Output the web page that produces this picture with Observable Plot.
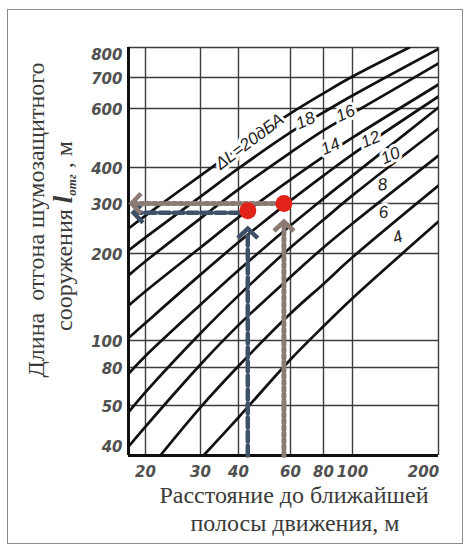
<!DOCTYPE html>
<html>
<head>
<meta charset="utf-8">
<script src="https://cdn.jsdelivr.net/npm/d3@7"></script>
<script src="https://cdn.jsdelivr.net/npm/@observablehq/plot@0.6"></script>
<style>
  html, body { margin: 0; padding: 0; background: #fff; }
  #chart { position: relative; width: 469px; height: 550px; }
  #chart svg { display: block; }
  #border { position: absolute; left: 7px; top: 9px; width: 456px; height: 535px;
            border: 1.5px solid #8a8a8a; box-sizing: border-box; pointer-events: none; }
</style>
</head>
<body>
<div id="chart"><div id="border"></div></div>
<script>
// ---------------- data ----------------
// grid values printed on the nomogram
const xGridTicks = [20, 30, 40, 60, 80, 100, 200];
const yGridTicks = [50, 80, 100, 200, 300, 400, 600, 700, 800];
const xTickLabels = [20, 30, 40, 60, 80, 100, 200];
const yTickLabels = [40, 50, 80, 100, 200, 300, 400, 600, 700, 800];
const xMin = 17.6, yMin = 40;

// curves ΔL (distance to nearest lane, m  ->  length of barrier extension, m)
const dist20 = [17.6, 20, 30, 40, 60, 80, 100, 158];
const len20  = [245, 272, 375, 456, 580, 647, 703, 800];
const dist18 = [17.6, 20, 30, 40, 60, 80, 100, 200];
const len18  = [205, 228, 317, 397, 509, 584, 640, 795];
const dist16 = [17.6, 20, 30, 40, 60, 80, 100, 200];
const len16  = [168, 188, 266, 336, 443, 516, 580, 745];
const dist14 = [17.6, 20, 30, 40, 60, 80, 100, 200];
const len14  = [132, 148, 210, 268, 363, 431, 491, 676];
const dist12 = [17.6, 20, 30, 40, 60, 80, 100, 200];
const len12  = [102, 115, 169, 219, 307, 375, 438, 637];
const dist10 = [17.6, 20, 30, 40, 60, 80, 100, 200];
const len10  = [74, 88, 133, 175, 251, 312, 375, 603];
const dist8  = [17.6, 20, 30, 40, 60, 80, 100, 200];
const len8   = [48.5, 59, 106, 143, 210, 263, 320, 523];
const dist6  = [17.6, 20, 30, 40, 60, 80, 100, 200];
const len6   = [41.6, 45.5, 82, 113, 166, 210, 255, 434];
const dist4  = [22.3, 30, 40, 60, 80, 100, 200];
const len4   = [40, 49.6, 81, 124, 157, 194, 346];
const distLow = [30.7, 40, 60, 80, 100, 200];   // lowest curve, unlabeled in the source
const lenLow  = [40, 47.4, 85.5, 112, 140, 259];

// curve labels
const labelTexts = ["ΔL=20дБА", "18", "16", "14", "12", "10", "8", "6", "4"];
const labelDist  = [43.6, 68.4, 94.7, 84.4, 115.6, 135.8, 127.4, 128.4, 143.7];
const labelLen   = [478, 552, 580, 462, 485, 434, 349, 279, 228];

// worked examples (red points)
const exampleDist = [43, 57];
const exampleLen  = [283, 300];

const yTitle1 = "Длина\u00a0 отгона шумозащитного";
const xTitle1 = "Расстояние до ближайшей";
const xTitle2 = "полосы движения, м";

// ---------------- build tables ----------------
const curves = [
  ["20", dist20, len20], ["18", dist18, len18], ["16", dist16, len16],
  ["14", dist14, len14], ["12", dist12, len12], ["10", dist10, len10],
  ["8", dist8, len8], ["6", dist6, len6], ["4", dist4, len4], ["low", distLow, lenLow]
];
const curveRows = curves.flatMap(([k, ds, ls]) => ds.map((d, i) => ({k, d, l: ls[i]})));
const labelRotate = [-37, -24, -24, -24, -24, -24, -8, -8, -20];
const labelRows = labelTexts.map((t, i) => ({t, d: labelDist[i], l: labelLen[i], r: labelRotate[i]}));
const pts = exampleDist.map((d, i) => ({d, l: exampleLen[i]}));

const blue = "#3f5169", brown = "#8b7b72";
const chevron = {
  draw(ctx, size) {
    const s = Math.sqrt(size / Math.PI);
    ctx.moveTo(-s, s * 0.95); ctx.lineTo(0, 0); ctx.lineTo(s, s * 0.95);
  }
};
const tickFont = {fontSize: 15, fontStyle: "italic", fontWeight: "bold", fill: "#505050",
  fontFamily: "'DejaVu Sans', 'Liberation Sans', sans-serif"};
const fmt = d => String(d);

const plot = Plot.plot({
  width: 469, height: 550,
  marginLeft: 128, marginRight: 31, marginTop: 47, marginBottom: 95,
  // the printed grid of the nomogram is not exactly logarithmic: calibrate the log scale piecewise
  x: {type: "log", domain: [xMin, 20, 30, 40, 60, 80, 100, 200],
      range: [128, 145, 200, 238, 290, 323, 352, 438], axis: null},
  y: {type: "log", domain: [yMin, 50, 80, 100, 200, 300, 400, 600, 700, 800],
      range: [455, 405, 367, 340, 253, 203, 167, 108, 77, 47], axis: null},
  style: {fontFamily: "'Liberation Sans', Arial, sans-serif", background: "transparent"},
  marks: [
    Plot.gridX(xGridTicks, {stroke: "#3c3c3c", strokeOpacity: 1, strokeWidth: 1.4}),
    Plot.gridY(yGridTicks, {stroke: "#3c3c3c", strokeOpacity: 1, strokeWidth: 1.4}),
    Plot.ruleX([xMin], {stroke: "#111", strokeWidth: 3}),
    Plot.ruleY([yMin], {stroke: "#111", strokeWidth: 3}),
    Plot.line(curveRows, {x: "d", y: "l", z: "k", stroke: "#111", strokeWidth: 2.7,
      curve: "catmull-rom", clip: true}),
    Plot.text(labelRows, {x: "d", y: "l", text: "t", rotate: "r", fontSize: 17, fontStyle: "italic",
      fill: "#222", stroke: "white", strokeWidth: 6, fontFamily: "'Liberation Sans', Arial, sans-serif"}),
    // tick labels
    Plot.text(xTickLabels.filter(v => v !== 200), {x: d => d, y: () => yMin, text: fmt, dy: 17, ...tickFont}),
    Plot.text([200], {x: d => d, y: () => yMin, text: fmt, dy: 17, dx: -15, ...tickFont}),
    Plot.text(yTickLabels.filter(v => v !== 800 && v !== 40), {x: () => xMin, y: d => d, text: fmt,
      textAnchor: "end", dx: -6, dy: 2, ...tickFont}),
    Plot.text([800], {x: () => xMin, y: d => d, text: fmt, textAnchor: "end", dx: -6, dy: 8, ...tickFont}),
    Plot.text([40], {x: () => xMin, y: d => d, text: fmt, textAnchor: "end", dx: -6, dy: -8, ...tickFont}),
    // worked example: blue (dashed)
    Plot.arrow([pts[0]], {x1: "d", y1: () => yMin, x2: "d", y2: "l", headLength: 0, insetEnd: 21,
      stroke: blue, strokeWidth: 4.5, strokeDasharray: "10,4"}),
    Plot.arrow([pts[0]], {x1: "d", y1: "l", x2: () => xMin, y2: "l", headLength: 0, insetStart: 8, insetEnd: 6,
      stroke: blue, strokeWidth: 4.5, strokeDasharray: "10,4", dy: 2}),
    Plot.dot([pts[0]], {x: "d", y: "l", symbol: chevron, r: 10, dy: 18, fill: "none", stroke: blue, strokeWidth: 4.5}),
    Plot.dot([pts[0]], {x: () => xMin, y: "l", symbol: chevron, r: 10, dx: 5, dy: 2, rotate: -90, fill: "none", stroke: blue, strokeWidth: 4.5}),
    // worked example: brown (dotted)
    Plot.arrow([pts[1]], {x1: "d", y1: () => yMin, x2: "d", y2: "l", headLength: 0, insetEnd: 21,
      stroke: brown, strokeWidth: 5, strokeDasharray: "3,3.5"}),
    Plot.arrow([pts[1]], {x1: "d", y1: "l", x2: () => xMin, y2: "l", headLength: 0, insetStart: 4, insetEnd: 5,
      stroke: brown, strokeWidth: 5, strokeDasharray: "3,3.5"}),
    Plot.dot([pts[1]], {x: "d", y: "l", symbol: chevron, r: 10, dy: 18, fill: "none", stroke: brown, strokeWidth: 4.5}),
    Plot.dot([pts[1]], {x: () => xMin, y: "l", symbol: chevron, r: 10, dx: 3, rotate: -90, fill: "none", stroke: brown, strokeWidth: 4.5}),
    Plot.dot(pts, {x: "d", y: "l", r: 8.5, fill: "#e2231a"})
  ]
});

const chart = document.getElementById("chart");
chart.insertBefore(plot, chart.firstChild);

// axis titles (serif, as in the source figure)
const svg = d3.select(plot);
const g = svg.append("g")
  .attr("font-family", "'Liberation Serif', 'Times New Roman', serif")
  .attr("fill", "#3a3a3a").attr("font-size", 24);
g.append("text").attr("transform", "translate(44,220) rotate(-90)")
  .attr("text-anchor", "middle").text(yTitle1);
const t2 = g.append("text").attr("transform", "translate(72,236) rotate(-90)")
  .attr("text-anchor", "middle");
t2.append("tspan").text("сооружения ");
t2.append("tspan").attr("font-weight", "bold").attr("font-style", "italic").attr("font-size", 27).text("l");
t2.append("tspan").attr("font-weight", "bold").attr("font-style", "italic").attr("font-size", 13).attr("dy", 4).text("отг");
t2.append("tspan").attr("dy", -4).text(" , м");
g.append("text").attr("x", 294).attr("y", 503).attr("text-anchor", "middle").text(xTitle1);
g.append("text").attr("x", 295).attr("y", 531).attr("text-anchor", "middle").text(xTitle2);
</script>
</body>
</html>
